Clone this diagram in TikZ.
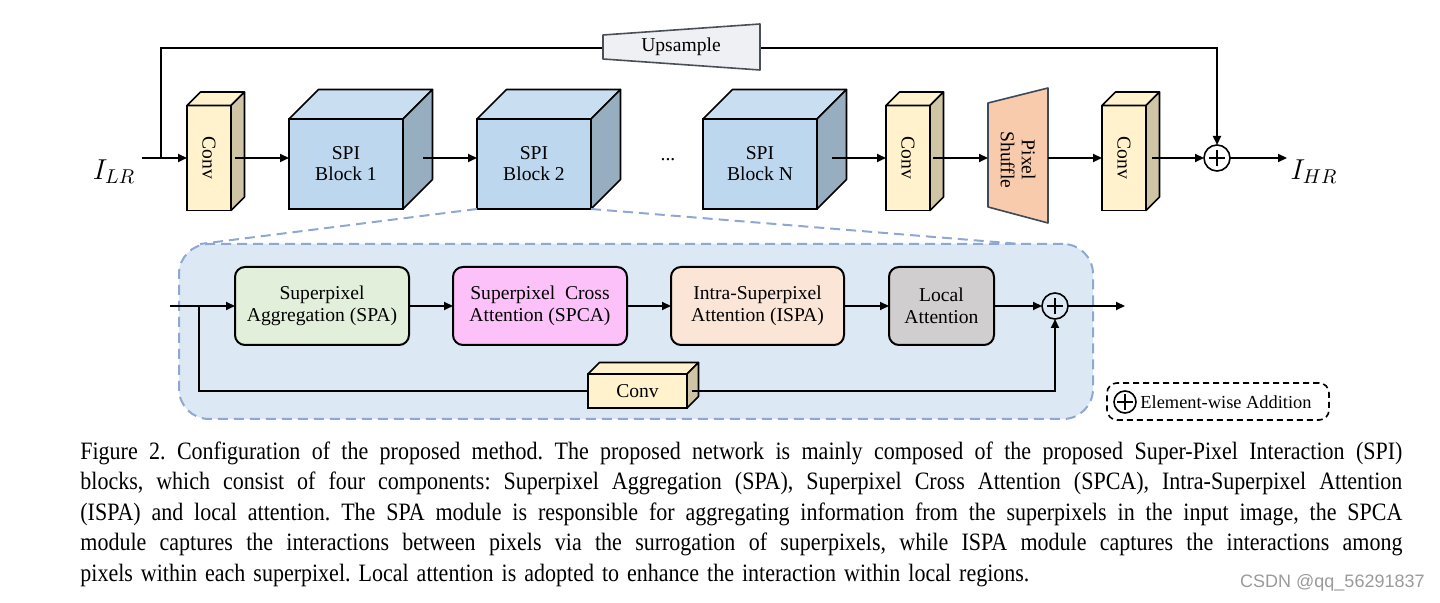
\documentclass[tikz,border=0pt]{standalone}
\usepackage{fontspec}
\setmainfont{Liberation Serif}
\newfontfamily\capfont[FakeStretch=0.88]{Liberation Serif}
\newfontfamily\wmfont{Liberation Sans}
\usetikzlibrary{arrows.meta,calc}
\definecolor{convF}{HTML}{FFF2CC}
\definecolor{convT}{HTML}{FFF2CC}
\definecolor{convS}{HTML}{CFC5A5}
\definecolor{spiF}{HTML}{BDD7EE}
\definecolor{spiT}{HTML}{CADEF1}
\definecolor{spiS}{HTML}{97ADC0}
\definecolor{upF}{HTML}{EEF0F3}
\definecolor{upD}{HTML}{4A4F57}
\definecolor{psF}{HTML}{F8CBAD}
\definecolor{psD}{HTML}{3D4A5C}
\definecolor{boxF}{HTML}{DDE8F5}
\definecolor{boxD}{HTML}{8EA8D2}
\definecolor{spaF}{HTML}{E2EFDA}
\definecolor{spcaF}{HTML}{FDC1FA}
\definecolor{ispaF}{HTML}{FBE5D6}
\definecolor{locF}{HTML}{D0CECE}
\definecolor{wmC}{HTML}{9A9A9A}
\newcommand\cubefaces[4]{%
  \filldraw[face, fill=#3] (#1.north west) -- ++(#2,-#2) -- ($(#1.north east)+(#2,-#2)$) -- (#1.north east) -- cycle;
  \filldraw[face, fill=#4] (#1.north east) -- ++(#2,-#2) -- ($(#1.south east)+(#2,-#2)$) -- (#1.south east) -- cycle;}
\newcommand\capline[1]{\leavevmode\hbox to 661pt{#1}}
\begin{document}
\begin{tikzpicture}[x=0.5pt,y=-0.5pt,
  arr/.style={line width=1pt,-{Triangle[length=4.5pt,width=4pt]}},
  ln/.style={line width=1pt},
  face/.style={draw,line width=0.8pt,line join=round},
  frontface/.style={draw,line width=0.8pt,inner sep=0,outer sep=0},
  lbl/.style={font=\fontsize{9.8}{10.5}\selectfont,align=center,inner sep=0},
  module/.style={draw,line width=1pt,rounded corners=5pt,align=center,
    font=\fontsize{9.8}{11}\selectfont,inner sep=0,outer sep=0,minimum height=39pt},
  plus/.style={circle,draw,line width=0.8pt,inner sep=0,outer sep=0,
    path picture={
      \draw[line width=0.8pt] ([xshift=-4pt]path picture bounding box.center) -- ([xshift=4pt]path picture bounding box.center);
      \draw[line width=0.8pt] ([yshift=-4pt]path picture bounding box.center) -- ([yshift=4pt]path picture bounding box.center);}},
]
\useasboundingbox (0,0) rectangle (1440,603);

% ---------- top row ----------
\node[frontface,fill=convF,minimum width=22pt,minimum height=52.5pt] (conv1) at (209,158) {};
\cubefaces{conv1}{13.5}{convT}{convS}
\node[lbl,rotate=-90] (conv1t) at (conv1) {Conv};

\node[frontface,fill=spiF,minimum width=57pt,minimum height=45pt] (spi1) at (346,164) {};
\cubefaces{spi1}{29.5}{spiT}{spiS}
\node[lbl] (spi1t) at (spi1) {SPI\\Block 1};

\node[frontface,fill=spiF,minimum width=57pt,minimum height=45pt] (spi2) at (534,164) {};
\cubefaces{spi2}{29.5}{spiT}{spiS}
\node[lbl] (spi2t) at (spi2) {SPI\\Block 2};

\node[lbl] (dots) at (668,160) {...};

\node[frontface,fill=spiF,minimum width=57pt,minimum height=45pt] (spiN) at (760,164) {};
\cubefaces{spiN}{29.5}{spiT}{spiS}
\node[lbl] (spiNt) at (spiN) {SPI\\Block N};

\node[frontface,fill=convF,minimum width=22pt,minimum height=52.5pt] (conv2) at (908,158) {};
\cubefaces{conv2}{13.5}{convT}{convS}
\node[lbl,rotate=-90] (conv2t) at (conv2) {Conv};

% pixel shuffle trapezoid
\coordinate (psL) at (988,158);
\coordinate (psR) at (1048,158);
\filldraw[fill=psF,draw=psD,line width=0.8pt,line join=round] (988,103) -- (1048,88) -- (1048,223) -- (988,207) -- cycle;
\node[lbl,rotate=-90] (pst) at (1018,160) {Pixel\\Shuffle};

\node[frontface,fill=convF,minimum width=22pt,minimum height=52.5pt] (conv3) at (1124,158) {};
\cubefaces{conv3}{13.5}{convT}{convS}
\node[lbl,rotate=-90] (conv3t) at (conv3) {Conv};

\node[plus,minimum size=13pt] (plus1) at (1217,158) {};

\node[inner sep=0,font=\fontsize{14}{14}\selectfont] (ilr) at (114,172) {$I_{LR}$};
\node[inner sep=0,font=\fontsize{14}{14}\selectfont] (ihr) at (1314,172) {$I_{HR}$};

\coordinate (in1) at (142,158);
\coordinate (br1) at (161,158);
\coordinate (upL) at (603,48);
\coordinate (upR) at (760,48);
\coordinate (out1) at (1287,158);

% connectors top
\draw[arr] (in1) -- (conv1.west);
\draw[ln] (br1) |- (upL);
\draw[arr] (upR) -| (plus1.north);
\draw[arr] ($(conv1.east)+(4,0)$) -- (spi1.west |- conv1.east);
\draw[arr] ($(spi1.east |- conv1.east)+(20,0)$) -- (spi2.west |- conv1.east);
\draw[arr] ($(spiN.east |- conv1.east)+(15,0)$) -- (conv2.west);
\draw[arr] ($(conv2.east)+(3,0)$) -- (psL);
\draw[arr] (psR) -- (conv3.west);
\draw[arr] ($(conv3.east)+(6,0)$) -- (plus1.west);
\draw[arr] (plus1.east) -- (out1);

% upsample trapezoid
\filldraw[fill=upF,draw=upD,line width=0.8pt,line join=round] (603,35) -- (760,24) -- (760,70) -- (603,59) -- cycle;
\node[lbl] (upt) at (681,47) {Upsample};

% ---------- SPI block detail ----------
\node[draw=boxD,fill=boxF,line width=1pt,dash pattern=on 5pt off 3pt,rounded corners=15pt,
  minimum width=457pt,minimum height=87.5pt,inner sep=0,outer sep=0] (spibox) at (636,331.5) {};
\draw[draw=boxD,line width=1pt,dash pattern=on 5pt off 3pt] (spi2.south west) -- ($(spibox.north west)+(21,0)$);
\draw[draw=boxD,line width=1pt,dash pattern=on 5pt off 3pt] (spi2.south east) -- ($(spibox.north east)+(-73,0)$);

\node[module,fill=spaF,minimum width=87pt] (spa) at (322,306) {Superpixel\\Aggregation (SPA)};
\node[module,fill=spcaF,minimum width=87pt] (spca) at (540,306) {Superpixel\ \ Cross\\Attention (SPCA)};
\node[module,fill=ispaF,minimum width=86.5pt] (ispa) at (757.5,306) {Intra-Superpixel\\Attention (ISPA)};
\node[module,fill=locF,minimum width=52.5pt] (loc) at (941.5,306) {Local\\Attention};
\node[plus,minimum size=13pt] (plus2) at (1055,306) {};

\node[frontface,fill=convF,minimum width=49.5pt,minimum height=17pt] (conv4) at (637.5,391) {};
\cubefaces{conv4}{11.5}{convT}{convS}
\node[lbl] (conv4t) at (conv4) {Conv};

\coordinate (in2) at (170,306);
\coordinate (br2) at (199,306);
\coordinate (out2) at (1125,306);

\draw[arr] (in2) -- (spa.west);
\draw[ln] (br2) |- (conv4.west);
\draw[arr] (spa) -- (spca);
\draw[arr] (spca) -- (ispa);
\draw[arr] (ispa) -- (loc);
\draw[arr] (loc) -- (plus2);
\draw[arr] (plus2.east) -- (out2);
\draw[arr] ($(conv4.east)+(5,0)$) -| (plus2.south);

% legend
\node[draw,line width=0.8pt,dash pattern=on 3pt off 2pt,rounded corners=5pt,
  minimum width=111pt,minimum height=18.5pt,inner sep=0] (legend) at (1218,401.5) {};
\node[plus,minimum size=11pt] (plus3) at (1125,402) {};
\node[anchor=west,inner sep=0,font=\fontsize{9.2}{10}\selectfont] (legt) at (1140,402) {Element-wise Addition};

% ---------- caption ----------
\node[anchor=north west,inner sep=0,text width=661pt,align=left,
  font=\capfont\fontsize{12.5}{15.3}\selectfont] (cap) at (80,441) {%
\frenchspacing\spaceskip=4pt plus 3pt minus 1.2pt\relax
\capline{Figure 2. Configuration of the proposed method. The proposed network is mainly composed of the proposed Super-Pixel Interaction (SPI)}\\
\capline{blocks, which consist of four components: Superpixel Aggregation (SPA), Superpixel Cross Attention (SPCA), Intra-Superpixel Attention}\\
\capline{(ISPA) and local attention. The SPA module is responsible for aggregating information from the superpixels in the input image, the SPCA}\\
\capline{module captures the interactions between pixels via the surrogation of superpixels, while ISPA module captures the interactions among}\\
pixels within each superpixel. Local attention is adopted to enhance the interaction within local regions.};

\node[anchor=east,inner sep=0,text=wmC,font=\wmfont\fontsize{9}{9}\selectfont] (wm) at (1425,583) {CSDN @qq\_56291837};
\end{tikzpicture}
\end{document}
